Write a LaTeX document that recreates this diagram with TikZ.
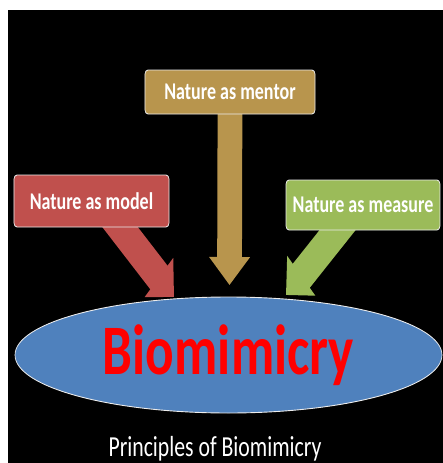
\documentclass[tikz,border=0pt]{standalone}
\usepackage{fontspec}
\setmainfont{Carlito}
\usetikzlibrary{arrows.meta,shapes.geometric,backgrounds}
\definecolor{bioblue}{HTML}{4F81BD}
\definecolor{modelred}{HTML}{C0504D}
\definecolor{mentorgold}{HTML}{B8954D}
\definecolor{measuregreen}{HTML}{9BBB59}
\begin{document}
\begin{tikzpicture}[x=1pt,y=-1pt]
		\tikzstyle{box} = [rectangle, draw=white!85!gray, line width=.9pt, rounded corners=4pt, text=white, font=\bfseries\fontsize{24}{24}\selectfont, inner sep=0pt]
		\tikzstyle{fat} = [line width=33pt, -{Triangle[length=28pt,width=53pt]}]
		\tikzstyle{squeeze} = [x=1.3333pt, transform canvas={xscale=.75}]
		\useasboundingbox (0,0) rectangle (443,463);
		\begin{scope}[squeeze]
			\node (bio) [ellipse, draw=white!85!gray, line width=.9pt, fill=bioblue, minimum width=569.3pt, minimum height=116pt, inner sep=0pt, text=red, font=\bfseries\fontsize{71}{71}\selectfont] at (228.5,355) {Biomimicry};
			\node (model) [box, fill=modelred, minimum width=206.7pt, minimum height=52pt] at (91.5,201) {Nature as model};
			\node (mentor) [box, fill=mentorgold, minimum width=226.7pt, minimum height=44pt] at (230,92) {Nature as mentor};
			\node (measure) [box, fill=measuregreen, minimum width=205.3pt, minimum height=50pt] at (363,205) {Nature as measure};
			\node (caption) [anchor=base, text=white, font=\fontsize{29}{29}\selectfont] at (215,456) {Principles of Biomimicry};
			\coordinate (tipL) at (174,297);
			\coordinate (tipM) at (229.5,285);
			\coordinate (tipR) at (286,295);
		\end{scope}
		\begin{scope}[on background layer]
			\fill[black] (8,10) rectangle (443,463);
			\begin{scope}[squeeze]
				\draw[fat, modelred] ([xshift=22pt,yshift=16pt]model.south) -- (tipL);
				\draw[fat, mentorgold] ([yshift=10pt]mentor.south) -- (tipM);
				\draw[fat, measuregreen] ([xshift=-17.3pt,yshift=16pt]measure.south) -- (tipR);
			\end{scope}
		\end{scope}
	\end{tikzpicture}
\end{document}
